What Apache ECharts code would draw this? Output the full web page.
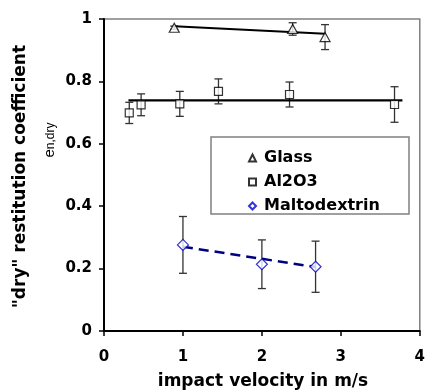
<!DOCTYPE html>
<html>
<head>
<meta charset="utf-8">
<script src="https://cdn.jsdelivr.net/npm/echarts@6/dist/echarts.min.js"></script>
<style>
  html, body { margin: 0; padding: 0; background: #fff; }
  #chart { width: 428px; height: 390px; }
</style>
</head>
<body>
<div id="chart"></div>
<script>
// values
var glassX = [0.89, 2.39, 2.80];
var glassY = [0.972, 0.968, 0.942];
var glassErr = [0.005, 0.02, 0.04];
var glassFitX = [0.89, 2.80];
var glassFitY = [0.977, 0.953];

var aluX = [0.32, 0.47, 0.96, 1.45, 2.35, 3.68];
var aluY = [0.699, 0.725, 0.728, 0.768, 0.758, 0.726];
var aluErr = [0.034, 0.035, 0.04, 0.04, 0.04, 0.057];
var aluFitX = [0.31, 3.78];
var aluFitY = [0.739, 0.739];

var maltoX = [1.0, 2.0, 2.68];
var maltoY = [0.276, 0.214, 0.206];
var maltoErr = [0.091, 0.078, 0.082];
var maltoFitX = [1.0, 2.68];
var maltoFitY = [0.27, 0.205];

var xTicks = [0, 1, 2, 3, 4];
var yTicks = [0, 0.2, 0.4, 0.6, 0.8, 1];

function pairs(xs, ys) {
  return xs.map(function (x, i) { return [x, ys[i]]; });
}
function triples(xs, ys, es) {
  return xs.map(function (x, i) { return [x, ys[i], es[i]]; });
}

var errData = triples(glassX, glassY, glassErr)
  .concat(triples(aluX, aluY, aluErr))
  .concat(triples(maltoX, maltoY, maltoErr));

var chart = echarts.init(document.getElementById('chart'));

var tickFont = { fontFamily: 'DejaVu Sans', fontWeight: 'bold', fontSize: 15, color: '#000' };

var option = {
  animation: false,
  grid: {
    left: 104, right: 4.5, top: 19, bottom: 59,
    show: true, borderColor: '#808080', borderWidth: 1.5
  },
  xAxis: {
    type: 'value', min: xTicks[0], max: xTicks[xTicks.length - 1], interval: 1,
    splitLine: { show: false },
    axisLine: { onZero: false, lineStyle: { color: '#000', width: 2 } },
    axisTick: { length: 5, lineStyle: { color: '#000', width: 1.5 } },
    axisLabel: Object.assign({ margin: 19 }, tickFont)
  },
  yAxis: {
    type: 'value', min: yTicks[0], max: yTicks[yTicks.length - 1], interval: 0.2,
    splitLine: { show: false },
    axisLine: { onZero: false, lineStyle: { color: '#000', width: 2 } },
    axisTick: { length: 5, lineStyle: { color: '#000', width: 1.5 } },
    axisLabel: Object.assign({ margin: 12 }, tickFont)
  },
  legend: {
    orient: 'vertical', left: 243, top: 144,
    itemWidth: 7, itemHeight: 7, itemGap: 6,
    textStyle: { fontFamily: 'DejaVu Sans', fontWeight: 'bold', fontSize: 16, lineHeight: 18, color: '#000',
      padding: [0, 0, 0, 3] },
    data: ['Glass', 'Al2O3', 'Maltodextrin']
  },
  graphic: [
    { type: 'rect', z: 1, shape: { x: 211, y: 137, width: 198, height: 77 },
      style: { fill: '#fff', stroke: '#808080', lineWidth: 1.5 } },
    { type: 'text', x: 21, y: 176.5, rotation: Math.PI / 2,
      style: { text: '"dry" restitution coefficient', fontFamily: 'DejaVu Sans', fontWeight: 'bold',
        fontSize: 17, fill: '#000', align: 'center', verticalAlign: 'middle' } },
    { type: 'text', x: 49, y: 140, rotation: Math.PI / 2,
      style: { text: '{a|e}{b|n,dry}', align: 'center', verticalAlign: 'middle',
        rich: {
          a: { fontFamily: 'Liberation Sans', fontSize: 15, fill: '#000', verticalAlign: 'bottom' },
          b: { fontFamily: 'Liberation Sans', fontSize: 12, fill: '#000', verticalAlign: 'bottom', padding: [4, 0, 0, 0] }
        } } },
    { type: 'text', x: 263, y: 382,
      style: { text: 'impact velocity in m/s', fontFamily: 'DejaVu Sans', fontWeight: 'bold',
        fontSize: 17, fill: '#000', align: 'center', verticalAlign: 'middle' } }
  ],
  series: [
    {
      type: 'custom', name: 'err', silent: true, z: 2,
      data: errData,
      renderItem: function (params, api) {
        var x = api.value(0), y = api.value(1), e = api.value(2);
        var top = api.coord([x, y + e]);
        var bot = api.coord([x, y - e]);
        var st = { stroke: '#333', lineWidth: 1.3 };
        return {
          type: 'group',
          children: [
            { type: 'line', shape: { x1: top[0], y1: top[1], x2: bot[0], y2: bot[1] }, style: st },
            { type: 'line', shape: { x1: top[0] - 4, y1: top[1], x2: top[0] + 4, y2: top[1] }, style: st },
            { type: 'line', shape: { x1: bot[0] - 4, y1: bot[1], x2: bot[0] + 4, y2: bot[1] }, style: st }
          ]
        };
      }
    },
    {
      type: 'line', name: 'glassFit', data: pairs(glassFitX, glassFitY), symbol: 'none', z: 3,
      lineStyle: { color: '#000', width: 2 }
    },
    {
      type: 'line', name: 'aluFit', data: pairs(aluFitX, aluFitY), symbol: 'none', z: 3,
      lineStyle: { color: '#000', width: 2.2 }
    },
    {
      type: 'line', name: 'maltoFit', data: pairs(maltoFitX, maltoFitY), symbol: 'none', z: 3,
      lineStyle: { color: '#000080', width: 2.5, type: [10, 6] }
    },
    {
      type: 'scatter', name: 'Glass', data: pairs(glassX, glassY), symbol: 'triangle', symbolSize: [10, 9], z: 4,
      itemStyle: { color: '#fff', borderColor: '#000', borderWidth: 1.2 }
    },
    {
      type: 'scatter', name: 'Al2O3', data: pairs(aluX, aluY), symbol: 'rect', symbolSize: 8, z: 4,
      itemStyle: { color: '#fff', borderColor: '#000', borderWidth: 1.2 }
    },
    {
      type: 'scatter', name: 'Maltodextrin', data: pairs(maltoX, maltoY), symbol: 'diamond', symbolSize: 11, z: 4,
      itemStyle: { color: '#fff', borderColor: '#0000cc', borderWidth: 1.2 }
    }
  ]
};

chart.setOption(option);
</script>
</body>
</html>
